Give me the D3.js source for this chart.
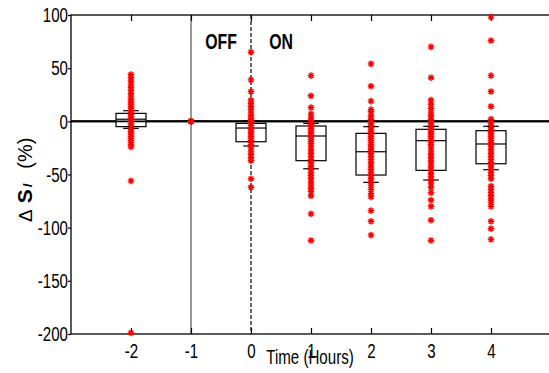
<!DOCTYPE html>
<html>
<head>
<meta charset="utf-8">
<script src="https://cdn.jsdelivr.net/npm/d3@7"></script>
<style>
  body { margin: 0; background: #fff; }
  svg { display: block; }
</style>
</head>
<body>
<div id="chart"></div>
<script>
// time points (hours)
var times = [-2, -1, 0, 1, 2, 3, 4];
var xTicks = [-2, -1, 0, 1, 2, 3, 4];
var yTicks = [-200, -150, -100, -50, 0, 50, 100];

// box statistics per time point
var whiskerHi = [10, 0, 0.6, -1.9, -5, -4.7, -4.7];
var boxQ3 = [7.5, 0, -1.9, -4.4, -11.3, -7.5, -8.8];
var boxMed = [2, 0, -6.3, -13.8, -28.6, -18.2, -21.3];
var boxQ1 = [-5, 0, -19.2, -37, -50.5, -46.1, -39.9];
var whiskerLo = [-6.6, 0, -23.2, -44.6, -57.4, -55.2, -45.5];

// individual measurements (red asterisks)
var ptsM2 = [44, 41, 38, 35, 32, 29, 26, 23, 20, 18, 16, 14, 12, 10, 8, 6, 4, 2, 0, -2, -4, -6, -8, -10, -12, -14, -16, -18, -20, -22, -24, -56, -199];
var ptsM1 = [0, 0, 0, 0];
var pts0 = [65, 39, 28, 20, 17, 14, 11, 8, 5, 3, 1, 0, -2, -4, -6, -8, -10, -12, -14, -16, -18, -20, -22, -25, -28, -31, -34, -37, -54, -62];
var pts1 = [43, 24, 13, 7, 4, 1, -1, -3, -5, -7, -9, -11, -13, -15, -17, -19, -21, -24, -27, -30, -33, -36, -39, -42, -45, -48, -51, -54, -57, -60, -63, -66, -70, -87, -112];
var pts2 = [54, 33, 19, 11, 9, 5, 2, 0, -2, -4, -6, -8, -10, -12, -14, -16, -18, -20, -22, -24, -26, -28, -30, -33, -36, -39, -42, -45, -48, -51, -54, -57, -60, -64, -68, -71, -84, -94, -107];
var pts3 = [70, 41, 20, 16, 12, 8, 5, 2, 0, -2, -4, -6, -8, -10, -12, -14, -16, -18, -20, -22, -25, -28, -31, -34, -37, -40, -43, -46, -49, -52, -55, -58, -62, -67, -74, -80, -93, -112];
var pts4 = [98, 76, 43, 28, 14, 2, 0, -2, -4, -6, -8, -10, -12, -14, -16, -18, -20, -22, -24, -27, -30, -33, -36, -39, -42, -45, -48, -51, -54, -61, -64, -67, -70, -73, -76, -80, -94, -101, -111];
var allPts = [ptsM2, ptsM1, pts0, pts1, pts2, pts3, pts4];

var svgWidth = 549, svgHeight = 373;
var margin = { top: 15, left: 71 };
var width = 480, height = 319;
var sx = 0.72; // condensed look of the original font

var svg = d3.select('#chart').append('svg')
  .attr('width', svgWidth)
  .attr('height', svgHeight)
  .style('font-family', '"Liberation Sans", Arial, sans-serif');

var g = svg.append('g')
  .attr('transform', 'translate(' + margin.left + ',' + margin.top + ')');

var x = d3.scaleLinear().domain([-3, 5]).range([0, width]);
var y = d3.scaleLinear().domain([-200, 100]).range([height, 0]);

// plain hyphen for negatives, like the original
var fmt = function (d) { return String(d); };

// frame
g.append('rect')
  .attr('x', 0).attr('y', 0)
  .attr('width', width).attr('height', height)
  .attr('fill', 'none').attr('stroke', '#000').attr('stroke-width', 1.3);

// OFF / ON separators
g.append('line')
  .attr('x1', x(-1)).attr('x2', x(-1))
  .attr('y1', 0).attr('y2', height)
  .attr('stroke', '#333').attr('stroke-width', 1);
g.append('line')
  .attr('x1', x(0)).attr('x2', x(0))
  .attr('y1', 0).attr('y2', height)
  .attr('stroke', '#000').attr('stroke-width', 1.2)
  .attr('stroke-dasharray', '4,2');

// zero line
g.append('line')
  .attr('x1', 0).attr('x2', width)
  .attr('y1', y(0)).attr('y2', y(0))
  .attr('stroke', '#000').attr('stroke-width', 2);

// axes
var yAxis = g.append('g')
  .attr('class', 'axis axis--y')
  .call(d3.axisLeft(y).tickValues(yTicks).tickSize(3).tickSizeOuter(0).tickPadding(0).tickFormat(fmt));
var xAxis = g.append('g')
  .attr('class', 'axis axis--x')
  .attr('transform', 'translate(0,' + height + ')')
  .call(d3.axisBottom(x).tickValues(xTicks).tickSize(-6).tickSizeOuter(0).tickPadding(9).tickFormat(fmt));
g.append('g')
  .attr('class', 'axis axis--top')
  .call(d3.axisTop(x).tickValues(xTicks).tickSize(-6).tickSizeOuter(0).tickFormat(''));

g.selectAll('.axis .domain').remove();
g.selectAll('.axis line').attr('stroke', '#000').attr('stroke-width', 1.2);
g.selectAll('.axis text')
  .attr('fill', '#000')
  .attr('font-size', '21px')
  .style('font-family', '"Liberation Sans", Arial, sans-serif');
yAxis.selectAll('text').attr('x', -3 / sx).attr('transform', 'scale(' + sx + ',1)');
xAxis.selectAll('text').attr('transform', 'scale(' + sx + ',1)');

// box plots
var boxW = 0.25, capW = 0.13;
var boxes = g.selectAll('.box')
  .data(times)
  .enter().append('g')
  .attr('class', 'box');

boxes.append('line')
  .attr('x1', function (d) { return x(d); })
  .attr('x2', function (d) { return x(d); })
  .attr('y1', function (d, i) { return y(whiskerHi[i]); })
  .attr('y2', function (d, i) { return y(whiskerLo[i]); })
  .attr('stroke', '#000').attr('stroke-width', 1).attr('stroke-dasharray', '3,2');
boxes.append('rect')
  .attr('x', function (d) { return x(d - boxW); })
  .attr('y', function (d, i) { return y(boxQ3[i]); })
  .attr('width', x(boxW) - x(0) + x(boxW) - x(0))
  .attr('height', function (d, i) { return y(boxQ1[i]) - y(boxQ3[i]); })
  .attr('fill', '#fff').attr('stroke', '#000').attr('stroke-width', 1.2);
boxes.append('line')
  .attr('x1', function (d) { return x(d - boxW); })
  .attr('x2', function (d) { return x(d + boxW); })
  .attr('y1', function (d, i) { return y(boxMed[i]); })
  .attr('y2', function (d, i) { return y(boxMed[i]); })
  .attr('stroke', '#000').attr('stroke-width', 1.2);
[whiskerHi, whiskerLo].forEach(function (arr) {
  boxes.append('line')
    .attr('x1', function (d) { return x(d - capW); })
    .attr('x2', function (d) { return x(d + capW); })
    .attr('y1', function (d, i) { return y(arr[i]); })
    .attr('y2', function (d, i) { return y(arr[i]); })
    .attr('stroke', '#000').attr('stroke-width', 1.2);
});

// redraw zero line over the boxes
g.append('line')
  .attr('x1', 0).attr('x2', width)
  .attr('y1', y(0)).attr('y2', y(0))
  .attr('stroke', '#000').attr('stroke-width', 1.6);

// asterisk markers
var r = 3.3, rd = r * 0.72;
var star = 'M' + (-r) + ',0H' + r + 'M0,' + (-r) + 'V' + r +
  'M' + (-rd) + ',' + (-rd) + 'L' + rd + ',' + rd +
  'M' + (-rd) + ',' + rd + 'L' + rd + ',' + (-rd);

var pts = [];
allPts.forEach(function (arr, i) {
  arr.forEach(function (v) { pts.push([times[i], v]); });
});
g.selectAll('.dot')
  .data(pts)
  .enter().append('path')
  .attr('class', 'dot')
  .attr('d', star)
  .attr('transform', function (d) { return 'translate(' + x(d[0]) + ',' + y(d[1]) + ')'; })
  .attr('fill', 'none')
  .attr('stroke', '#f00')
  .attr('stroke-width', 1.4);

// OFF / ON labels
g.append('text')
  .attr('transform', 'translate(' + x(-0.5) + ',34) scale(' + sx + ',1)')
  .attr('text-anchor', 'middle')
  .attr('font-size', '22px').attr('font-weight', 'bold')
  .text('OFF');
g.append('text')
  .attr('transform', 'translate(' + x(0.5) + ',34) scale(' + sx + ',1)')
  .attr('text-anchor', 'middle')
  .attr('font-size', '22px').attr('font-weight', 'bold')
  .text('ON');

// axis titles
svg.append('text')
  .attr('transform', 'translate(310,364) scale(' + sx + ',1)')
  .attr('text-anchor', 'middle')
  .attr('font-size', '21px')
  .text('Time (Hours)');

var yl = svg.append('text')
  .attr('transform', 'translate(32,222) rotate(-90)')
  .attr('text-anchor', 'start');
yl.append('tspan').attr('font-size', '19px').text('Δ');
yl.append('tspan').attr('dx', 6).attr('font-size', '21px').attr('font-weight', 'bold').text('S');
yl.append('tspan').attr('dx', 2).attr('font-size', '13px').attr('font-weight', 'bold')
  .attr('font-style', 'italic').text('I');
yl.append('tspan').attr('dx', 15).attr('font-size', '20px').text('(%)');
</script>
</body>
</html>
